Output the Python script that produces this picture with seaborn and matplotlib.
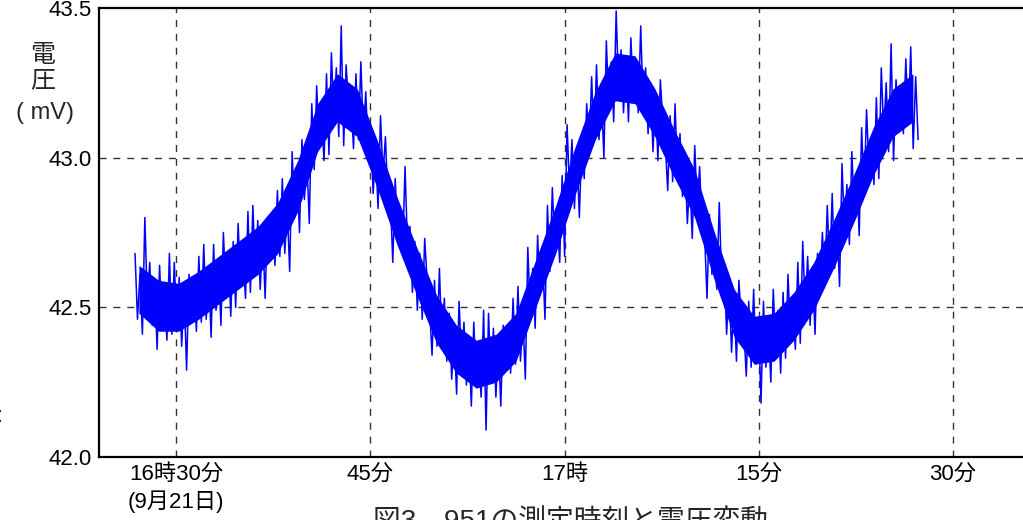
import numpy as np
import pandas as pd
import matplotlib
matplotlib.use("Agg")
import matplotlib.pyplot as plt
import seaborn as sns

# voltage (mV), left to right, 16:26.8 -> 17:27.3
voltage = [
    42.68, 42.46, 42.61, 42.41, 42.80, 42.52, 42.65, 42.44,
    42.58, 42.36, 42.64, 42.44, 42.53, 42.39, 42.68, 42.41,
    42.65, 42.43, 42.60, 42.37, 42.56, 42.29, 42.61, 42.47,
    42.58, 42.42, 42.67, 42.45, 42.71, 42.46, 42.61, 42.40,
    42.71, 42.49, 42.64, 42.44, 42.75, 42.55, 42.68, 42.47,
    42.72, 42.50, 42.78, 42.58, 42.67, 42.53, 42.82, 42.55,
    42.84, 42.62, 42.79, 42.56, 42.75, 42.53, 42.80, 42.66,
    42.80, 42.64, 42.89, 42.67, 42.93, 42.68, 42.83, 42.62,
    43.02, 42.80, 42.95, 42.75, 43.06, 42.86, 42.99, 42.78,
    43.18, 42.96, 43.24, 43.04, 43.13, 42.99, 43.28, 43.01,
    43.35, 43.13, 43.30, 43.07, 43.44, 43.04, 43.31, 43.17,
    43.19, 43.03, 43.28, 43.06, 43.32, 43.07, 43.22, 43.01,
    43.10, 42.88, 43.03, 42.83, 43.14, 42.94, 43.07, 42.86,
    42.87, 42.65, 42.93, 42.73, 42.82, 42.68, 42.97, 42.70,
    42.77, 42.55, 42.72, 42.49, 42.68, 42.46, 42.73, 42.59,
    42.50, 42.34, 42.59, 42.37, 42.63, 42.38, 42.53, 42.32,
    42.48, 42.26, 42.41, 42.21, 42.52, 42.32, 42.45, 42.24,
    42.39, 42.17, 42.45, 42.25, 42.34, 42.20, 42.49, 42.09,
    42.48, 42.26, 42.43, 42.20, 42.39, 42.17, 42.44, 42.30,
    42.44, 42.28, 42.53, 42.31, 42.57, 42.32, 42.47, 42.26,
    42.70, 42.48, 42.63, 42.43, 42.74, 42.54, 42.67, 42.46,
    42.84, 42.62, 42.90, 42.70, 42.79, 42.65, 42.94, 42.67,
    43.11, 42.89, 43.06, 42.83, 43.02, 42.80, 43.07, 42.93,
    43.18, 43.02, 43.27, 43.05, 43.31, 43.06, 43.21, 43.00,
    43.39, 43.17, 43.32, 43.12, 43.49, 43.23, 43.36, 43.15,
    43.34, 43.12, 43.40, 43.20, 43.29, 43.15, 43.44, 43.17,
    43.30, 43.08, 43.25, 43.02, 43.21, 42.99, 43.26, 43.12,
    43.05, 42.89, 43.14, 42.92, 43.18, 42.93, 43.08, 42.87,
    43.00, 42.78, 42.93, 42.73, 43.04, 42.84, 42.97, 42.76,
    42.75, 42.53, 42.81, 42.61, 42.70, 42.56, 42.85, 42.58,
    42.63, 42.41, 42.58, 42.35, 42.54, 42.32, 42.59, 42.45,
    42.43, 42.27, 42.52, 42.30, 42.56, 42.31, 42.46, 42.18,
    42.52, 42.30, 42.45, 42.25, 42.56, 42.36, 42.49, 42.28,
    42.55, 42.33, 42.61, 42.41, 42.50, 42.36, 42.65, 42.38,
    42.72, 42.50, 42.67, 42.44, 42.63, 42.41, 42.68, 42.54,
    42.75, 42.59, 42.84, 42.62, 42.88, 42.63, 42.78, 42.57,
    42.98, 42.76, 42.91, 42.71, 43.02, 42.82, 42.95, 42.74,
    43.10, 42.88, 43.16, 42.96, 43.05, 42.91, 43.20, 42.93,
    43.30, 43.08, 43.25, 43.02, 43.38, 42.99, 43.26, 43.12,
    43.24, 43.08, 43.33, 43.11, 43.37, 43.03, 43.27, 43.06,
]
# the solid core of the noisy trace (upper / lower edge), same time span
core_hi = [42.64, 42.59, 42.58, 42.62, 42.67, 42.72, 42.77, 42.85, 42.99, 43.18,
           43.28, 43.23, 43.06, 42.87, 42.70, 42.54, 42.44, 42.39, 42.41, 42.48,
           42.66, 42.84, 43.04, 43.22, 43.35, 43.34, 43.23, 43.09, 42.96, 42.75,
           42.56, 42.47, 42.48, 42.55, 42.65, 42.79, 42.94, 43.10, 43.23, 43.28]
core_lo = [42.48, 42.42, 42.42, 42.46, 42.51, 42.56, 42.61, 42.68, 42.82, 43.02,
           43.12, 43.07, 42.90, 42.71, 42.54, 42.38, 42.28, 42.23, 42.25, 42.32,
           42.50, 42.68, 42.88, 43.06, 43.19, 43.18, 43.07, 42.93, 42.80, 42.59,
           42.40, 42.31, 42.32, 42.39, 42.49, 42.63, 42.78, 42.94, 43.07, 43.12]
t_start, t_end = 26.83, 87.3          # minutes after 16:00
tick_minutes = [30, 45, 60, 75, 90]
tick_labels = ["16時30分\n(9月21日)", "45分", "17時", "15分", "30分"]
y_ticks = [42.0, 42.5, 43.0, 43.5]
y_labels = ["42.0", "42.5", "43.0", "43.5"]

df = pd.DataFrame({"minute": np.linspace(t_start, t_end, len(voltage)),
                   "mV": voltage})
core = pd.DataFrame({"minute": np.linspace(t_start + 0.3, t_end - 0.4, len(core_hi)),
                     "hi": core_hi, "lo": core_lo})

sns.set_style("white")
plt.rcParams["font.family"] = ["Liberation Sans", "Noto Sans CJK JP", "DejaVu Sans"]

fig = plt.figure(figsize=(10.23, 5.2), dpi=100)
ax = fig.add_axes([0.0968, 0.1212, 0.9032, 0.8635])

ax.fill_between(core["minute"], core["lo"], core["hi"], color="#0000ff",
                lw=0, zorder=2)
sns.lineplot(data=df, x="minute", y="mV", ax=ax, color="#0000ff",
             linewidth=1.1, estimator=None, sort=False, zorder=3)

ax.set_xlim(24.05, 95.4)
ax.set_ylim(42.0, 43.5)
ax.set_xticks(tick_minutes)
ax.set_xticklabels(tick_labels, fontsize=16, linespacing=1.3)
ax.set_yticks(y_ticks)
ax.set_yticklabels(y_labels, fontsize=16)
ax.set_xlabel("")
ax.set_ylabel("")
ax.tick_params(axis="both", direction="in", length=4, width=1, color="black",
               pad=5, labelcolor="black")

for m in tick_minutes:
    ax.axvline(m, color="#333333", lw=1, ls=(0, (5, 5)), zorder=0)
for v in [42.5, 43.0]:
    ax.axhline(v, color="#333333", lw=1, ls=(0, (5, 5)), zorder=0)

for s in ["left", "bottom", "top"]:
    ax.spines[s].set_color("black")
    ax.spines[s].set_linewidth(1.6)
ax.spines["right"].set_visible(False)

fig.text(0.042, 0.894, "電", ha="center", va="center", fontsize=18)
fig.text(0.042, 0.845, "圧", ha="center", va="center", fontsize=18)
fig.text(0.044, 0.782, "( mV)", ha="center", va="center", fontsize=17)
fig.text(0.0, 0.2, ":", ha="center", va="center", fontsize=16)
fig.text(0.558, 0.021, "図3　951の測定時刻と電圧変動", ha="center", va="top",
         fontsize=20)

fig.savefig("out.png", dpi=100)
